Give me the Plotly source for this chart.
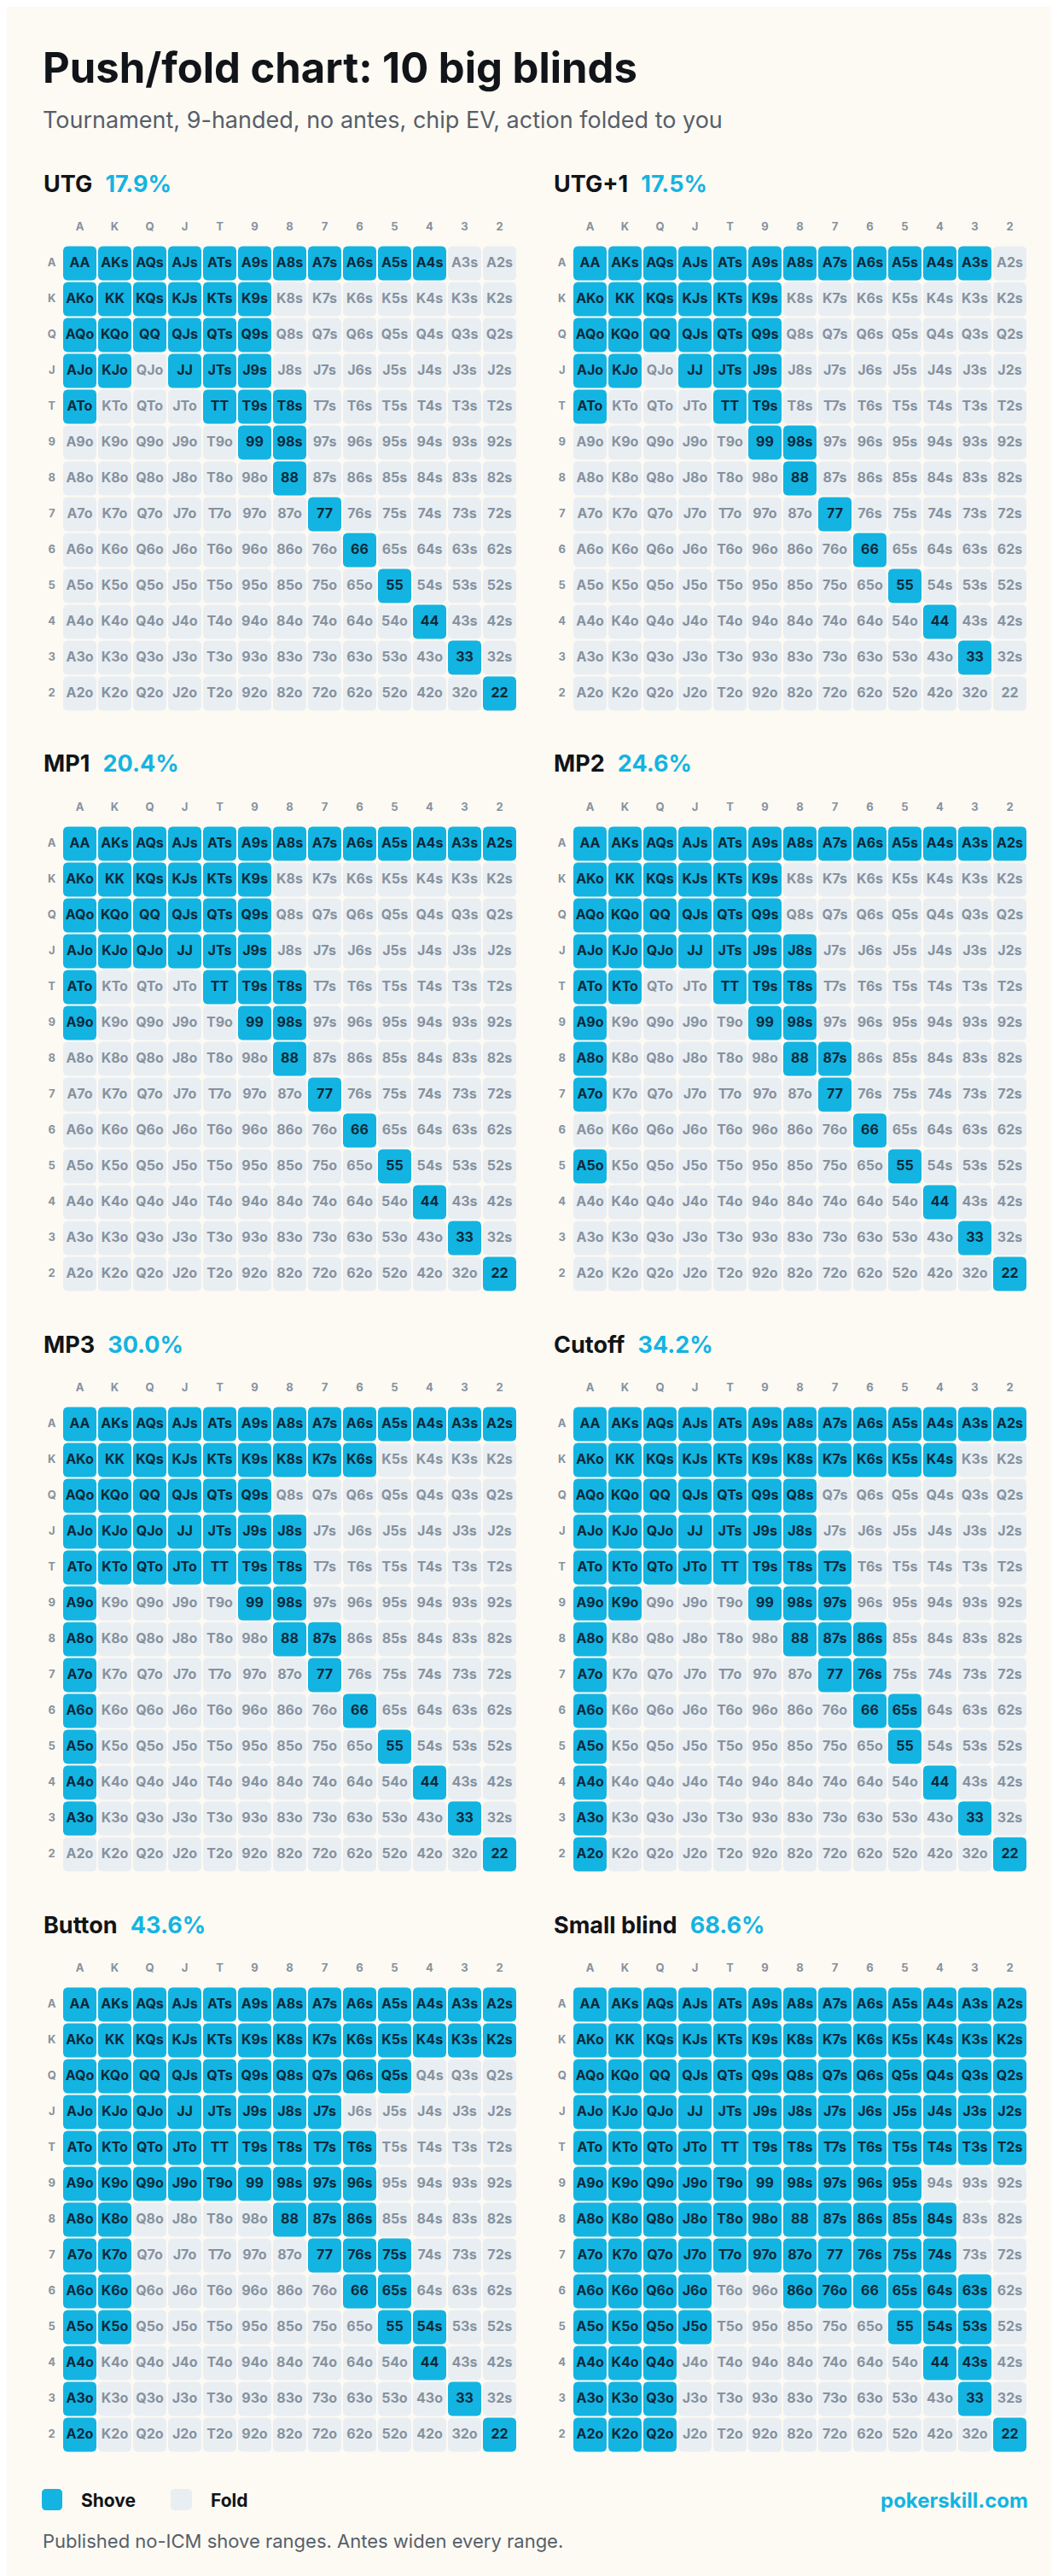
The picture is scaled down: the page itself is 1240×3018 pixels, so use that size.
import numpy as np
import plotly.graph_objects as go

# ranks in chart order, rows and columns
RANKS = list("AKQJT98765432")

POSITIONS = ["UTG", "UTG+1", "MP1", "MP2", "MP3", "Cutoff", "Button", "Small blind"]
PERCENTS = ["17.9%", "17.5%", "20.4%", "24.6%", "30.0%", "34.2%", "43.6%", "68.6%"]

UTG_SHOVE = ("AA AKs AQs AJs ATs A9s A8s A7s A6s A5s A4s "
             "AKo KK KQs KJs KTs K9s AQo KQo QQ QJs QTs Q9s "
             "AJo KJo JJ JTs J9s ATo TT T9s T8s 99 98s 88 77 66 55 44 33 22").split()

UTG1_SHOVE = ("AA AKs AQs AJs ATs A9s A8s A7s A6s A5s A4s A3s "
              "AKo KK KQs KJs KTs K9s AQo KQo QQ QJs QTs Q9s "
              "AJo KJo JJ JTs J9s ATo TT T9s 99 98s 88 77 66 55 44 33").split()

MP1_SHOVE = ("AA AKs AQs AJs ATs A9s A8s A7s A6s A5s A4s A3s A2s "
             "AKo KK KQs KJs KTs K9s AQo KQo QQ QJs QTs Q9s "
             "AJo KJo QJo JJ JTs J9s ATo TT T9s T8s A9o 99 98s "
             "88 77 66 55 44 33 22").split()

MP2_SHOVE = ("AA AKs AQs AJs ATs A9s A8s A7s A6s A5s A4s A3s A2s "
             "AKo KK KQs KJs KTs K9s AQo KQo QQ QJs QTs Q9s "
             "AJo KJo QJo JJ JTs J9s J8s ATo KTo TT T9s T8s A9o 99 98s "
             "A8o 88 87s A7o 77 66 A5o 55 44 33 22").split()

MP3_SHOVE = ("AA AKs AQs AJs ATs A9s A8s A7s A6s A5s A4s A3s A2s "
             "AKo KK KQs KJs KTs K9s K8s K7s K6s AQo KQo QQ QJs QTs Q9s "
             "AJo KJo QJo JJ JTs J9s J8s ATo KTo QTo JTo TT T9s T8s "
             "A9o 99 98s A8o 88 87s A7o 77 A6o 66 A5o 55 A4o 44 A3o 33 22").split()

CO_SHOVE = ("AA AKs AQs AJs ATs A9s A8s A7s A6s A5s A4s A3s A2s "
            "AKo KK KQs KJs KTs K9s K8s K7s K6s K5s K4s "
            "AQo KQo QQ QJs QTs Q9s Q8s AJo KJo QJo JJ JTs J9s J8s "
            "ATo KTo QTo JTo TT T9s T8s T7s A9o K9o 99 98s 97s "
            "A8o 88 87s 86s A7o 77 76s A6o 66 65s A5o 55 A4o 44 A3o 33 A2o 22").split()

BTN_SHOVE = ("AA AKs AQs AJs ATs A9s A8s A7s A6s A5s A4s A3s A2s "
             "AKo KK KQs KJs KTs K9s K8s K7s K6s K5s K4s K3s K2s "
             "AQo KQo QQ QJs QTs Q9s Q8s Q7s Q6s Q5s "
             "AJo KJo QJo JJ JTs J9s J8s J7s ATo KTo QTo JTo TT T9s T8s T7s T6s "
             "A9o K9o Q9o J9o T9o 99 98s 97s 96s A8o K8o 88 87s 86s "
             "A7o K7o 77 76s 75s A6o K6o 66 65s A5o K5o 55 54s "
             "A4o 44 A3o 33 A2o 22").split()

SB_SHOVE = ("AA AKs AQs AJs ATs A9s A8s A7s A6s A5s A4s A3s A2s "
            "AKo KK KQs KJs KTs K9s K8s K7s K6s K5s K4s K3s K2s "
            "AQo KQo QQ QJs QTs Q9s Q8s Q7s Q6s Q5s Q4s Q3s Q2s "
            "AJo KJo QJo JJ JTs J9s J8s J7s J6s J5s J4s J3s J2s "
            "ATo KTo QTo JTo TT T9s T8s T7s T6s T5s T4s T3s T2s "
            "A9o K9o Q9o J9o T9o 99 98s 97s 96s 95s "
            "A8o K8o Q8o J8o T8o 98o 88 87s 86s 85s 84s "
            "A7o K7o Q7o J7o T7o 97o 87o 77 76s 75s 74s "
            "A6o K6o Q6o J6o 86o 76o 66 65s 64s 63s "
            "A5o K5o Q5o J5o 55 54s 53s A4o K4o Q4o 44 43s "
            "A3o K3o Q3o 33 A2o K2o Q2o 22").split()

SHOVE_RANGES = [UTG_SHOVE, UTG1_SHOVE, MP1_SHOVE, MP2_SHOVE,
                MP3_SHOVE, CO_SHOVE, BTN_SHOVE, SB_SHOVE]

W, H = 1240, 3018
BG = "#fdfaf3"
SHOVE = "#13b4e2"
FOLD = "#e9eef3"
INK = "#111418"
SHOVE_TXT = "#0b2a3b"
FOLD_TXT = "#86929e"
MUTED = "#565f6a"
FONT = "Inter"


def hand_name(r, c):
    if r == c:
        return RANKS[r] * 2
    if c > r:
        return RANKS[r] + RANKS[c] + "s"
    return RANKS[c] + RANKS[r] + "o"


def rounded_box(cx, cy, hw, hh, rx, ry, n=6):
    # outline of a rounded cell, in axis units
    xs, ys = [], []
    corners = [(cx + hw - rx, cy - hh + ry, -90, 0),
               (cx + hw - rx, cy + hh - ry, 0, 90),
               (cx - hw + rx, cy + hh - ry, 90, 180),
               (cx - hw + rx, cy - hh + ry, 180, 270)]
    for ox, oy, a0, a1 in corners:
        for a in np.linspace(np.radians(a0), np.radians(a1), n):
            xs.append(ox + rx * np.cos(a))
            ys.append(oy + ry * np.sin(a))
    xs.append(xs[0]); ys.append(ys[0])
    xs.append(None); ys.append(None)
    return xs, ys


fig = go.Figure()

COL_PX, ROW_PX = 41.0, 42.0   # cell pitch in pixels
for g, (pos, pct, shove) in enumerate(zip(POSITIONS, PERCENTS, SHOVE_RANGES)):
    gc, gr = g % 2, g // 2
    x0 = 85.5 + 598 * gc          # centre of first column
    y0 = 300.5 + 680 * gr         # centre of first row
    left, right = x0 - 1.5 * COL_PX, x0 + 12.5 * COL_PX
    top, bottom = y0 - 1.5 * ROW_PX, y0 + 12.5 * ROW_PX
    sfx = "" if g == 0 else str(g + 1)
    fig.update_layout(**{
        "xaxis" + sfx: dict(domain=[left / W, right / W], range=[-1.5, 12.5],
                            visible=False, fixedrange=True, anchor="y" + sfx),
        "yaxis" + sfx: dict(domain=[1 - bottom / H, 1 - top / H], range=[12.5, -1.5],
                            visible=False, fixedrange=True, anchor="x" + sfx),
    })
    xa, ya = "x" + sfx, "y" + sfx

    sx, sy, fx, fy = [], [], [], []
    st = {"x": [], "y": [], "t": []}
    ft = {"x": [], "y": [], "t": []}
    for r in range(13):
        for c in range(13):
            h = hand_name(r, c)
            bx, by = rounded_box(c, r, 19.5 / COL_PX, 20 / ROW_PX, 5 / COL_PX, 5 / ROW_PX)
            if h in shove:
                sx += bx; sy += by
                st["x"].append(c); st["y"].append(r); st["t"].append(h)
            else:
                fx += bx; fy += by
                ft["x"].append(c); ft["y"].append(r); ft["t"].append(h)

    for xs, ys, col in [(fx, fy, FOLD), (sx, sy, SHOVE)]:
        fig.add_trace(go.Scatter(x=xs, y=ys, fill="toself", fillcolor=col, mode="lines",
                                 line=dict(width=0, color=col), hoverinfo="skip",
                                 showlegend=False, xaxis=xa, yaxis=ya))
    for d, col in [(ft, FOLD_TXT), (st, SHOVE_TXT)]:
        fig.add_trace(go.Scatter(x=d["x"], y=d["y"], text=d["t"], mode="text",
                                 textfont=dict(family=FONT, size=16, color=col, weight=700),
                                 hoverinfo="skip", showlegend=False, xaxis=xa, yaxis=ya))
    # rank labels
    fig.add_trace(go.Scatter(x=list(range(13)), y=[-1] * 13, text=RANKS, mode="text",
                             textfont=dict(family=FONT, size=13, color=FOLD_TXT, weight=700),
                             hoverinfo="skip", showlegend=False, xaxis=xa, yaxis=ya))
    fig.add_trace(go.Scatter(x=[-0.8] * 13, y=list(range(13)), text=RANKS, mode="text",
                             textfont=dict(family=FONT, size=13, color=FOLD_TXT, weight=700),
                             hoverinfo="skip", showlegend=False, xaxis=xa, yaxis=ya))

    fig.add_annotation(x=(41 + 598 * gc) / W, y=1 - (207 + 680 * gr) / H,
                       xref="paper", yref="paper", xanchor="left", yanchor="middle",
                       showarrow=False,
                       text=f"<b>{pos}</b>&nbsp;&nbsp;<b><span style='color:{SHOVE}'>{pct}</span></b>",
                       font=dict(family=FONT, size=27, color=INK))

# header
fig.add_annotation(x=40 / W, y=1 - 72 / H, xref="paper", yref="paper", xanchor="left",
                   yanchor="middle", showarrow=False,
                   text="<b>Push/fold chart: 10 big blinds</b>",
                   font=dict(family=FONT, size=49, color=INK))
fig.add_annotation(x=40 / W, y=1 - 132 / H, xref="paper", yref="paper", xanchor="left",
                   yanchor="middle", showarrow=False,
                   text="Tournament, 9-handed, no antes, chip EV, action folded to you",
                   font=dict(family=FONT, size=27, color=MUTED))


# legend swatches
def swatch(x, y, w, h, r, color):
    def px(a, b):
        return f"{a / W:.6f},{1 - b / H:.6f}"
    path = (f"M{px(x + r, y)} L{px(x + w - r, y)} Q{px(x + w, y)} {px(x + w, y + r)} "
            f"L{px(x + w, y + h - r)} Q{px(x + w, y + h)} {px(x + w - r, y + h)} "
            f"L{px(x + r, y + h)} Q{px(x, y + h)} {px(x, y + h - r)} "
            f"L{px(x, y + r)} Q{px(x, y)} {px(x + r, y)} Z")
    fig.add_shape(type="path", path=path, xref="paper", yref="paper",
                  fillcolor=color, line=dict(width=0))


swatch(41, 2908, 24, 25, 5, SHOVE)
swatch(192, 2908, 25, 25, 5, FOLD)
for x, label in [(85, "Shove"), (237, "Fold")]:
    fig.add_annotation(x=x / W, y=1 - 2921 / H, xref="paper", yref="paper", xanchor="left",
                       yanchor="middle", showarrow=False, text=f"<b>{label}</b>",
                       font=dict(family=FONT, size=21, color=INK))
fig.add_annotation(x=1199 / W, y=1 - 2921 / H, xref="paper", yref="paper", xanchor="right",
                   yanchor="middle", showarrow=False, text="<b>pokerskill.com</b>",
                   font=dict(family=FONT, size=24, color=SHOVE))
fig.add_annotation(x=40 / W, y=1 - 2969 / H, xref="paper", yref="paper", xanchor="left",
                   yanchor="middle", showarrow=False,
                   text="Published no-ICM shove ranges. Antes widen every range.",
                   font=dict(family=FONT, size=22, color=MUTED))

fig.update_layout(width=W, height=H, autosize=False,
                  margin=dict(l=0, r=0, t=0, b=0),
                  paper_bgcolor=BG, plot_bgcolor="rgba(0,0,0,0)",
                  font=dict(family=FONT), showlegend=False)

fig.write_html("out.html", config={"displayModeBar": False})
